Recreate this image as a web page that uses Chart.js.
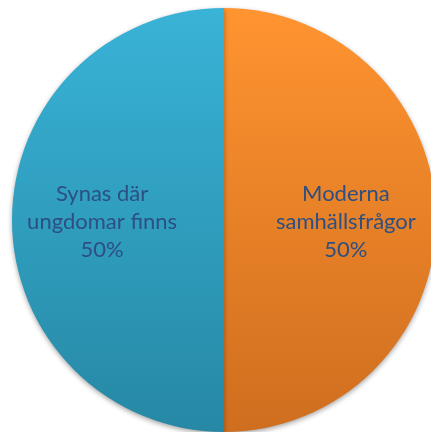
<!DOCTYPE html>
<html><head><meta charset="utf-8">
<script src="https://cdn.jsdelivr.net/npm/chart.js@4"></script>
<style>html,body{margin:0;padding:0;overflow:hidden;background:#fff;width:431px;height:432px}
#wrap{position:absolute;left:0;top:0;width:448px;height:440px}</style>
</head><body>
<div id="wrap"><canvas id="c" width="448" height="440"></canvas></div>
<script>
const categories = ['Moderna samhällsfrågor', 'Synas där ungdomar finns'];
const values = [50, 50];
const labelLines = [['Moderna', 'samhällsfrågor'], ['Synas där', 'ungdomar finns']];
const percentLabels = ['50%', '50%'];

const topColors = ['#FF9430', '#39B3D7'];
const bottomColors = ['#CF6E1F', '#2688A4'];

function grad(ctx, i) {
  const chart = ctx.chart;
  const a = chart.chartArea;
  if (!a) return topColors[i];
  const g = chart.ctx.createLinearGradient(0, a.top, 0, a.bottom);
  g.addColorStop(0, topColors[i]);
  g.addColorStop(1, bottomColors[i]);
  return g;
}

const labelPlugin = {
  id: 'sliceLabels',
  afterDatasetsDraw(chart) {
    const ctx = chart.ctx;
    const meta = chart.getDatasetMeta(0);
    ctx.save();
    ctx.font = '22px Lato, "Liberation Sans", sans-serif';
    ctx.fillStyle = '#2D4F82';
    ctx.textAlign = 'center';
    ctx.textBaseline = 'alphabetic';
    meta.data.forEach((arc, i) => {
      const p = arc.getProps(['x', 'y', 'startAngle', 'endAngle', 'outerRadius'], true);
      const mid = (p.startAngle + p.endAngle) / 2;
      const r = p.outerRadius * 0.575;
      const cx = p.x + Math.cos(mid) * r;
      const cy = p.y + Math.sin(mid) * r;
      const lines = labelLines[i].concat([percentLabels[i]]);
      const lh = 28;
      lines.forEach((t, k) => {
        ctx.fillText(t, cx, cy + 9 + (k - (lines.length - 1) / 2) * lh);
      });
    });
    ctx.restore();
  }
};

const shadowPlugin = {
  id: 'pieShadow',
  beforeDatasetsDraw(chart) {
    const ctx = chart.ctx;
    ctx.save();
    ctx.shadowColor = 'rgba(0,0,0,0.35)';
    ctx.shadowBlur = 5;
    ctx.shadowOffsetY = 2;
  },
  afterDatasetsDraw(chart) {
    chart.ctx.restore();
  }
};

new Chart(document.getElementById('c'), {
  type: 'pie',
  data: {
    labels: categories,
    datasets: [{
      data: values,
      backgroundColor: (ctx) => grad(ctx, ctx.dataIndex),
      borderWidth: 0
    }]
  },
  options: {
    responsive: false,
    animation: false,
    layout: { padding: { top: 8, bottom: 8, left: 0, right: 0 } },
    plugins: { legend: { display: false }, tooltip: { enabled: false } }
  },
  plugins: [shadowPlugin, labelPlugin]
});
</script>
</body></html>
